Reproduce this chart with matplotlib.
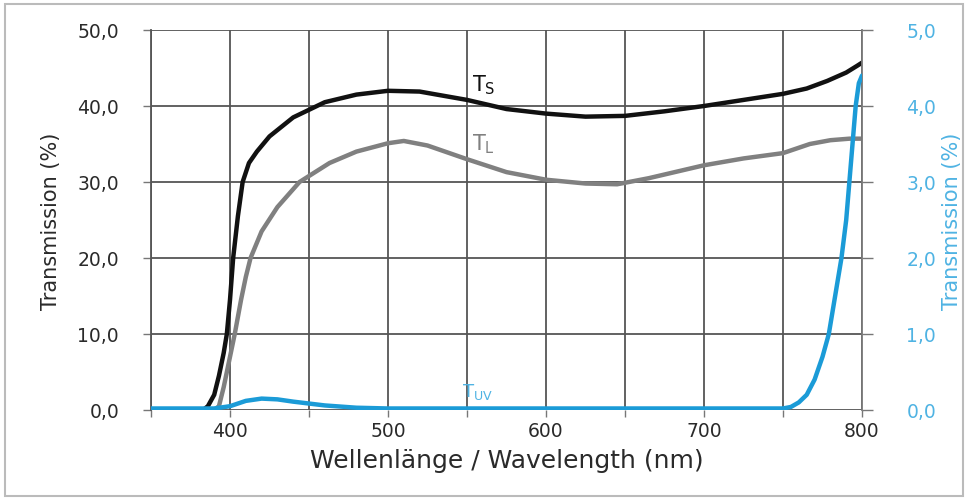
import matplotlib
matplotlib.use("Agg")
import matplotlib.pyplot as plt
from matplotlib.patches import Rectangle

plt.rcParams['font.family'] = ['DejaVu Sans']
plt.rcParams['mathtext.default'] = 'regular'

ts_x = [350, 383, 386, 390, 393, 396, 398, 400, 402, 405, 408, 412, 417, 425, 440, 460, 480, 500, 520, 550, 575, 600, 625, 650, 675, 700, 725, 750, 765, 778, 790, 797, 800]
ts_y = [0, 0, 0.5, 2, 4.5, 7.5, 10, 14.5, 20, 25.5, 30, 32.5, 34, 36, 38.5, 40.5, 41.5, 42, 41.9, 40.8, 39.6, 39, 38.6, 38.7, 39.3, 40, 40.8, 41.6, 42.3, 43.3, 44.4, 45.3, 45.7]

tl_x = [350, 390, 393, 396, 400, 403, 407, 410, 413, 420, 430, 444, 463, 480, 500, 510, 525, 550, 575, 600, 625, 645, 665, 700, 725, 750, 767, 780, 792, 800]
tl_y = [0, 0, 0.5, 3, 7, 10, 14.5, 17.5, 20, 23.5, 26.7, 30, 32.5, 34, 35.1, 35.4, 34.8, 33, 31.3, 30.3, 29.8, 29.7, 30.5, 32.2, 33.1, 33.8, 35.0, 35.5, 35.7, 35.7]

tuv_x = [350, 390, 400, 410, 420, 430, 440, 460, 480, 500, 600, 700, 750, 755, 760, 765, 770, 775, 779, 783, 787, 790, 792, 794, 796, 798, 800]
tuv_y = [0.02, 0.02, 0.05, 0.12, 0.15, 0.14, 0.11, 0.06, 0.03, 0.02, 0.02, 0.02, 0.02, 0.04, 0.1, 0.2, 0.4, 0.7, 1.0, 1.5, 2.0, 2.5, 3.0, 3.5, 4.0, 4.3, 4.4]

left_ticks = [0, 10, 20, 30, 40, 50]
left_labels = ["0,0", "10,0", "20,0", "30,0", "40,0", "50,0"]
right_ticks = [0, 1, 2, 3, 4, 5]
right_labels = ["0,0", "1,0", "2,0", "3,0", "4,0", "5,0"]
x_ticks = [400, 500, 600, 700, 800]
x_grid = [350, 400, 450, 500, 550, 600, 650, 700, 750, 800]

BLUE = "#1b9bd7"
LBLUE = "#4fb3e3"
GRID = "#555555"
TXT = "#2a2a2a"

fig = plt.figure(figsize=(9.69, 5.02), dpi=100)
fig.patches.append(Rectangle((5/969, 5/502), 958/969, 492/502, transform=fig.transFigure,
                             fill=False, edgecolor="#bbbbbb", linewidth=1.5))
ax = fig.add_axes([151/969, 1 - 411/502, 711/969, 380/502])
ax2 = ax.twinx()

ax.set_xlim(350, 800)
ax.set_ylim(0, 50)
ax2.set_ylim(0, 5)

for xv in x_grid:
    ax.axvline(xv, color=GRID, lw=1.3, zorder=0)
for yv in left_ticks:
    ax.axhline(yv, color=GRID, lw=1.3, zorder=0)

ax.plot(ts_x, ts_y, color="#111111", lw=3.2, zorder=3, solid_capstyle='round')
ax.plot(tl_x, tl_y, color="#808080", lw=3.2, zorder=3, solid_capstyle='round')
ax2.plot(tuv_x, tuv_y, color=BLUE, lw=3.2, zorder=3, solid_capstyle='round')

ax.set_xticks(x_grid, minor=True)
ax.set_xticks(x_ticks)
ax.set_xticklabels([str(v) for v in x_ticks], fontsize=13.5, color=TXT)
ax.set_yticks(left_ticks)
ax.set_yticklabels(left_labels, fontsize=13.5, color=TXT)
ax2.set_yticks(right_ticks)
ax2.set_yticklabels(right_labels, fontsize=13.5, color=LBLUE)
ax.tick_params(axis='x', which='both', length=5, width=1, color="#777777", pad=3, direction='out')
ax.tick_params(axis='y', length=6, width=1, color="#777777", pad=17)
ax2.tick_params(axis='y', length=8, width=1, color="#777777", pad=24)

for a in (ax, ax2):
    for s in a.spines.values():
        s.set_visible(False)
ax.spines['left'].set_visible(True)
ax.spines['left'].set_color("#555555")
ax.spines['left'].set_linewidth(1.3)
ax2.spines['right'].set_visible(True)
ax2.spines['right'].set_color("#777777")
ax2.spines['right'].set_linewidth(1.3)

ax.set_xlabel("Wellenlänge / Wavelength (nm)", fontsize=18, color=TXT, labelpad=6)
ax.set_ylabel("Transmission (%)", fontsize=15, color=TXT, labelpad=12)
ax2.set_ylabel("Transmission (%)", fontsize=15, color=LBLUE, labelpad=4)

ax.text(553, 41.3, "T$_S$", fontsize=15, color="#111111", ha='left', va='bottom')
ax.text(553, 33.6, "T$_L$", fontsize=15, color="#808080", ha='left', va='bottom')
ax2.text(547, 0.12, "T$_{UV}$", fontsize=13, color=LBLUE, ha='left', va='bottom')

fig.savefig("out.png", dpi=100)
